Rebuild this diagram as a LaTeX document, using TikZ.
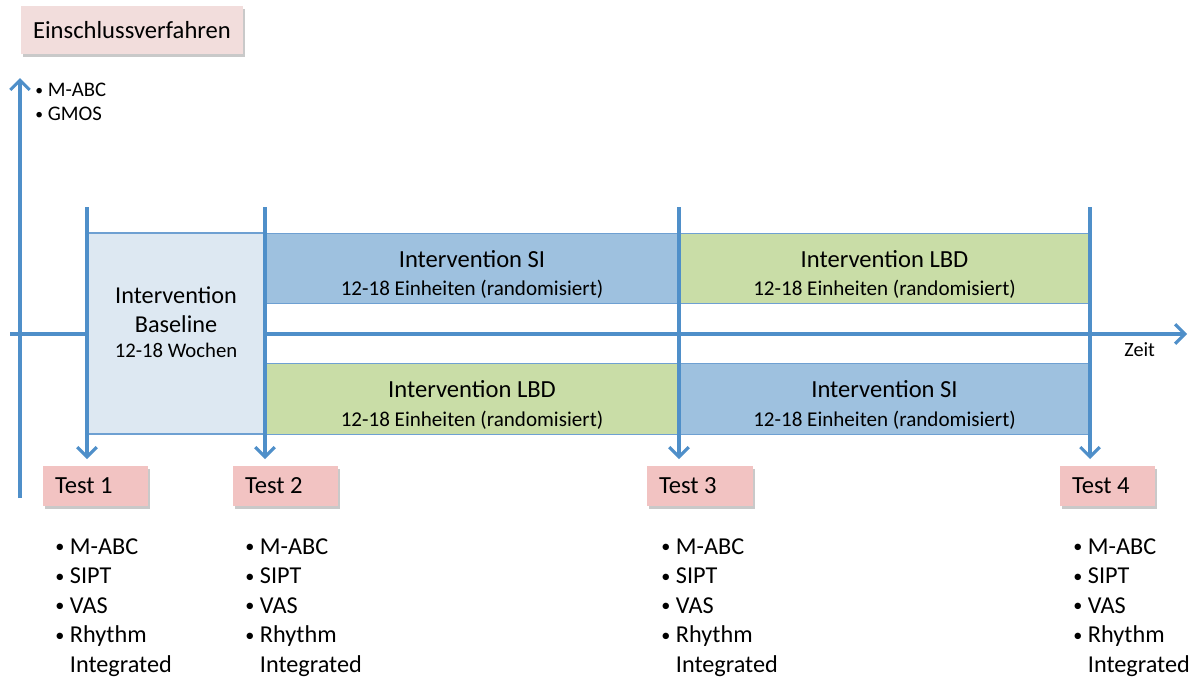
\documentclass[tikz,border=0pt]{standalone}
\usepackage{fontspec}
\usepackage{graphicx}
\setmainfont{Carlito}
\usetikzlibrary{arrows.meta,shadows}
\definecolor{axisblue}{RGB}{79,143,201}
\definecolor{boxline}{RGB}{110,160,210}
\definecolor{siblue}{RGB}{158,193,223}
\definecolor{lbdgreen}{RGB}{201,221,167}
\definecolor{baseblue}{RGB}{221,232,242}
\definecolor{testpink}{RGB}{242,195,194}
\definecolor{inpink}{RGB}{242,221,220}
\newcommand{\bul}{\raisebox{0.12ex}{\scalebox{0.75}{•}}}
\begin{document}
\begin{tikzpicture}
  [x=0.02cm,y=-0.02cm,every node/.style={inner sep=0pt}]
  \tikzstyle{axis} = [draw=axisblue,line width=1.8pt,-{Straight Barb[length=5.5pt,width=11pt]}]
  \tikzstyle{phase} = [draw=boxline,line width=0.8pt,shape=rectangle]
  \tikzstyle{pinkbox} = [shape=rectangle,minimum height=0.8cm,inner xsep=0.24cm,align=flush left,
    drop shadow={shadow xshift=1pt,shadow yshift=-1.5pt,opacity=0.3,fill=black!70},
    font=\fontsize{14}{16}\selectfont]
  \tikzstyle{items} = [align=flush left,anchor=north west,font=\fontsize{13.8}{16.8}\selectfont]
  \useasboundingbox (0,0) rectangle (1203,677);

  % Einschluss
  \node[pinkbox,fill=inpink,minimum width=4.44cm,minimum height=0.96cm,align=center] (incl) at (132,30) {Einschlussverfahren};
  \node[items,font=\fontsize{11.8}{13.6}\selectfont] (inlist) at (35,83) {\bul\ M-ABC\\\bul\ GMOS};

  % axes
  \coordinate (ybot) at (20,498);
  \coordinate (ytop) at (20,78);
  \draw[axis] (ybot) -- (ytop);
  \coordinate (tstart) at (10,334);
  \coordinate (tend) at (1187,334);
  \draw[axis] (tstart) -- (tend);
  \node[anchor=north west,font=\fontsize{11.5}{13}\selectfont] (zeit) at (1124,342) {Zeit};

  % phases
  \node[phase,fill=baseblue,minimum width=3.56cm,minimum height=4.02cm] (base) at (176,333.5) {};
  \node[align=center] (basetext) at (176,322)
    {{\fontsize{13.8}{16}\selectfont Intervention}\\[5pt]{\fontsize{13.8}{16}\selectfont Baseline}\\[2pt]{\fontsize{11.8}{14}\selectfont 12-18 Wochen}};
  \foreach \name/\x/\y/\w/\col/\what in {si1/472/268.5/8.28/siblue/SI, lbd1/884.5/268.5/8.22/lbdgreen/LBD,
     lbd2/472/399/8.28/lbdgreen/LBD, si2/884.5/399/8.22/siblue/SI} {
    \node[phase,fill=\col,minimum width=\w cm,minimum height=1.41cm] (\name) at (\x,\y) {};
    \node[align=center] (\name text) at (\x,\y+6)
      {{\fontsize{14}{16}\selectfont Intervention \what}\\[4pt]{\fontsize{12}{14}\selectfont 12-18 Einheiten (randomisiert)}};
  }

  % tests
  \foreach \n/\x/\tx/\w in {1/87/95.5/2.1, 2/265/285.5/2.1, 3/679/700/2.12, 4/1090/1107.5/1.9} {
    \coordinate (top\n) at (\x,207);
    \coordinate (end\n) at (\x,459);
    \draw[axis] (top\n) -- (end\n);
    \node[pinkbox,fill=testpink,text width=\w cm-0.48cm] (test\n) at (\tx,486) {Test \n};
  }
  \foreach \n/\x in {1/55, 2/245, 3/661, 4/1073}
    \node[items] (list\n) at (\x,538) {\bul\ M-ABC\\\bul\ SIPT\\\bul\ VAS\\\bul\ Rhythm\\\hphantom{\bul\ }Integrated};

\end{tikzpicture}
\end{document}
